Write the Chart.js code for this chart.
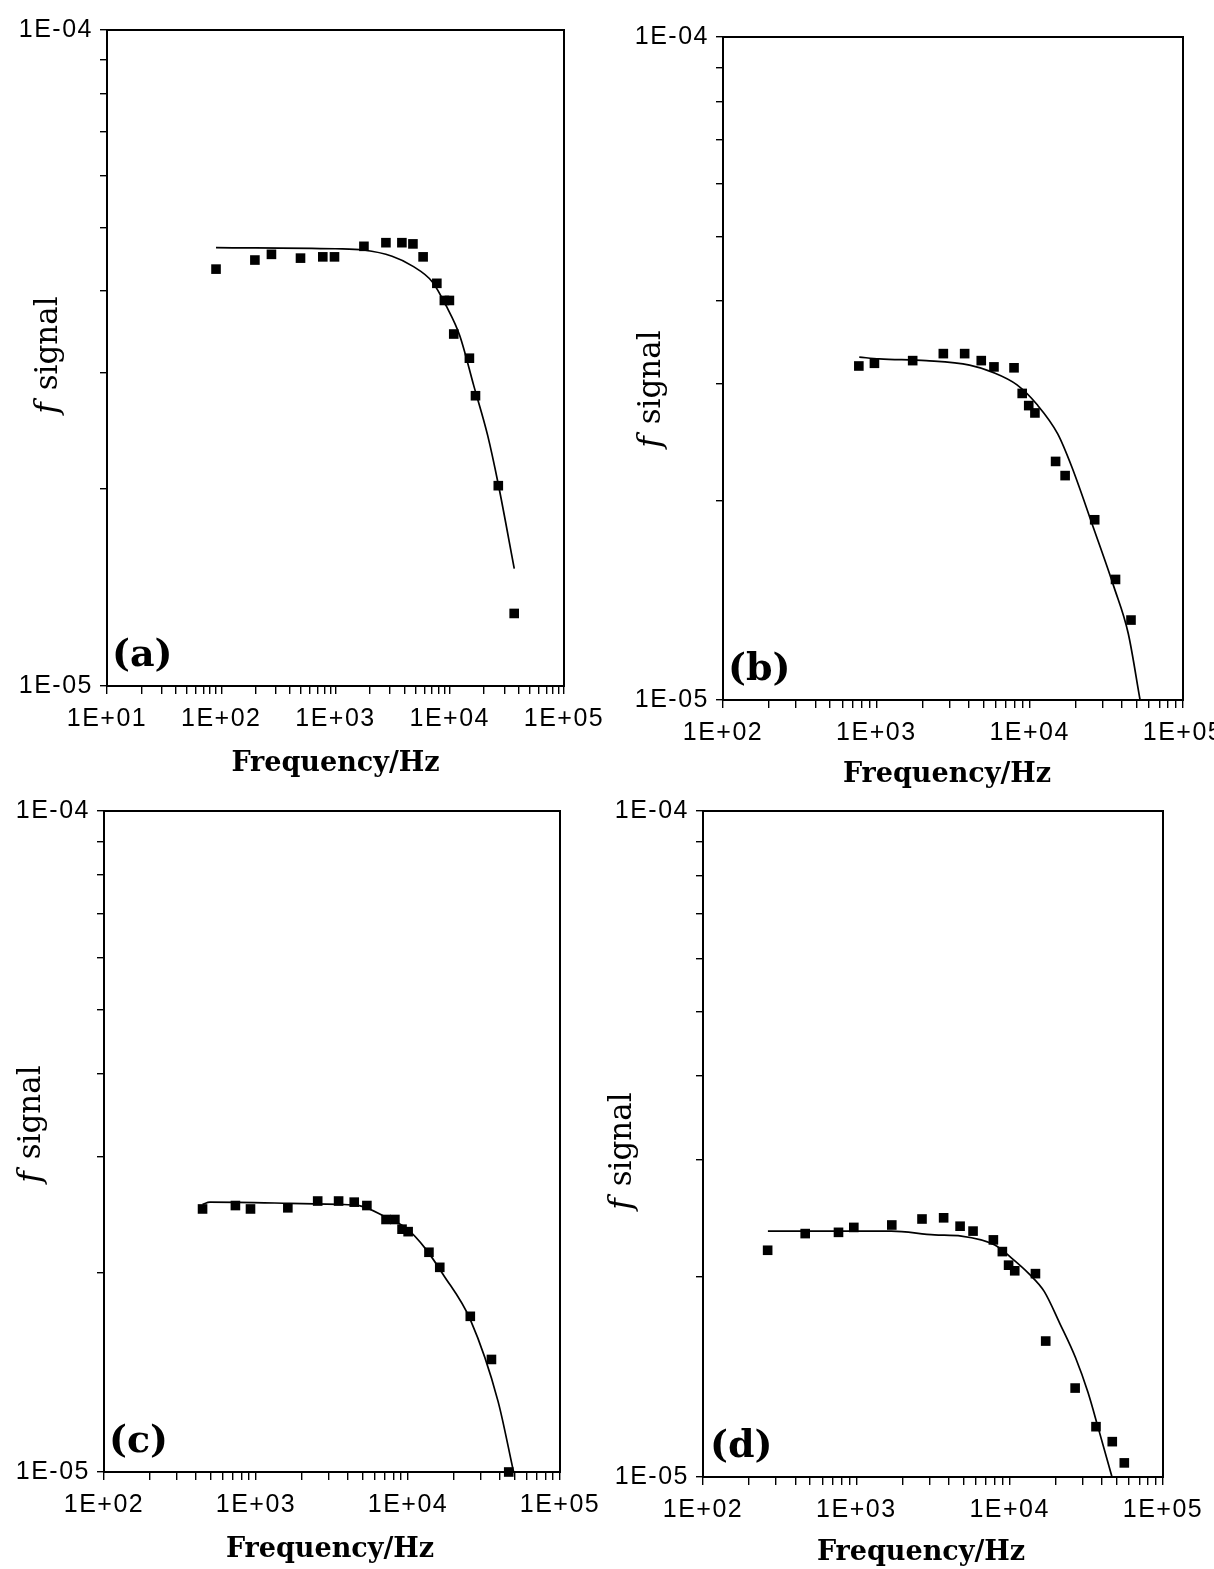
<!DOCTYPE html>
<html><head><meta charset="utf-8">
<script src="https://cdn.jsdelivr.net/npm/chart.js@4.4.1/dist/chart.umd.min.js"></script>
<style>
html,body{margin:0;padding:0;background:#fff;width:1214px;height:1569px;overflow:hidden;position:relative}
canvas{position:absolute}
</style></head><body>
<canvas id="ca"></canvas><canvas id="cb"></canvas><canvas id="cc"></canvas><canvas id="cd"></canvas>
<script>
// ---------- data (Hz, f signal) ----------
const aFreq   = [90, 197, 275, 494, 774, 980, 1774, 2763, 3812, 4762, 5846, 7709, 8972, 9930, 10840, 14860, 16800, 26600, 36640];
const aSignal = [4.32e-5, 4.46e-5, 4.55e-5, 4.49e-5, 4.51e-5, 4.51e-5, 4.68e-5, 4.74e-5, 4.74e-5, 4.72e-5, 4.51e-5, 4.11e-5, 3.87e-5, 3.87e-5, 3.44e-5, 3.16e-5, 2.77e-5, 2.02e-5, 1.29e-5];
const aFitFreq   = [90, 997, 1766, 3127, 4690, 7050, 9290, 12240, 16220, 21470, 26600, 36700];
const aFitSignal = [4.66e-5, 4.64e-5, 4.62e-5, 4.52e-5, 4.37e-5, 4.13e-5, 3.80e-5, 3.42e-5, 2.87e-5, 2.41e-5, 2.03e-5, 1.51e-5];

const bFreq   = [769, 972, 1726, 2735, 3767, 4834, 5850, 7906, 8940, 9860, 10820, 14760, 17030, 26550, 36300, 45800];
const bSignal = [3.19e-5, 3.22e-5, 3.25e-5, 3.33e-5, 3.33e-5, 3.25e-5, 3.18e-5, 3.17e-5, 2.90e-5, 2.78e-5, 2.71e-5, 2.29e-5, 2.18e-5, 1.87e-5, 1.52e-5, 1.32e-5];
const bFitFreq   = [774, 1047, 2114, 4055, 5770, 8230, 11170, 15240, 18790, 25810, 35480, 43950, 52500];
const bFitSignal = [3.29e-5, 3.27e-5, 3.25e-5, 3.20e-5, 3.12e-5, 2.99e-5, 2.79e-5, 2.52e-5, 2.25e-5, 1.83e-5, 1.48e-5, 1.26e-5, 1.00e-5];

const cFreq   = [445, 732, 920, 1620, 2546, 3495, 4428, 5364, 7168, 8197, 9137, 10020, 13735, 16180, 25695, 35400, 46000];
const cSignal = [2.50e-5, 2.53e-5, 2.50e-5, 2.51e-5, 2.57e-5, 2.57e-5, 2.56e-5, 2.53e-5, 2.41e-5, 2.41e-5, 2.33e-5, 2.31e-5, 2.15e-5, 2.04e-5, 1.72e-5, 1.48e-5, 1.00e-5];
const cFitFreq   = [445, 497, 1663, 3531, 4772, 7159, 9700, 13180, 17020, 25700, 39090, 49500];
const cFitSignal = [2.54e-5, 2.56e-5, 2.55e-5, 2.54e-5, 2.53e-5, 2.43e-5, 2.34e-5, 2.17e-5, 1.99e-5, 1.70e-5, 1.28e-5, 1.00e-5];

const dFreq   = [264, 464, 765, 963, 1703, 2681, 3710, 4750, 5770, 7830, 8960, 9840, 10790, 14730, 17180, 26730, 36560, 46680, 55930];
const dSignal = [2.19e-5, 2.32e-5, 2.33e-5, 2.37e-5, 2.39e-5, 2.44e-5, 2.45e-5, 2.38e-5, 2.34e-5, 2.27e-5, 2.18e-5, 2.08e-5, 2.04e-5, 2.02e-5, 1.60e-5, 1.36e-5, 1.19e-5, 1.13e-5, 1.05e-5];
const dFitFreq   = [265, 796, 1690, 3236, 4840, 8000, 10330, 13330, 16790, 21250, 26900, 32400, 38000, 46500];
const dFitSignal = [2.34e-5, 2.34e-5, 2.34e-5, 2.31e-5, 2.30e-5, 2.23e-5, 2.13e-5, 2.02e-5, 1.90e-5, 1.70e-5, 1.51e-5, 1.34e-5, 1.18e-5, 1.00e-5];

// ---------- tick labels ----------
const aXTicks = [1e1, 1e2, 1e3, 1e4, 1e5];
const aXTickLabels = ['1E+01', '1E+02', '1E+03', '1E+04', '1E+05'];
const xTicks = [1e2, 1e3, 1e4, 1e5];
const xTickLabels = ['1E+02', '1E+03', '1E+04', '1E+05'];
const yTicks = [1e-5, 1e-4];
const yTickLabels = ['1E-05', '1E-04'];
const xTitle = 'Frequency/Hz';
const yTitleItalic = 'f';
const yTitleRest = ' signal';

// ---------- layout ----------
const panels = [
  {id:'ca', letter:'(a)', area:{l:107,t:30,r:564,b:686}, xMin:10, xMax:1e5, xt:aXTicks, xl:aXTickLabels,
   f:aFreq, s:aSignal, ff:aFitFreq, fs:aFitSignal, yt:{dx:-50, cy:356}, xtl:{dx:0, dy:85}, let:{dx:5, dy:-20}},
  {id:'cb', letter:'(b)', area:{l:723,t:37,r:1183,b:700}, xMin:100, xMax:1e5, xt:xTicks, xl:xTickLabels,
   f:bFreq, s:bSignal, ff:bFitFreq, fs:bFitSignal, yt:{dx:-63, cy:390}, xtl:{dx:-6, dy:82}, let:{dx:5, dy:-20}},
  {id:'cc', letter:'(c)', area:{l:104,t:811,r:560,b:1472}, xMin:100, xMax:1e5, xt:xTicks, xl:xTickLabels,
   f:cFreq, s:cSignal, ff:cFitFreq, fs:cFitSignal, yt:{dx:-64, cy:1125}, xtl:{dx:-2, dy:85}, let:{dx:5, dy:-20}},
  {id:'cd', letter:'(d)', area:{l:703,t:811,r:1163,b:1477}, xMin:100, xMax:1e5, xt:xTicks, xl:xTickLabels,
   f:dFreq, s:dSignal, ff:dFitFreq, fs:dFitSignal, yt:{dx:-72, cy:1152}, xtl:{dx:-12, dy:83}, let:{dx:7, dy:-20}}
];
const PADL = 5, YW = 100, PADT = 30, PADR = 80, XH = 90, PADB = 10;

function logTicks(min, max) {
  const out = [];
  for (let e = Math.round(Math.log10(min)); e <= Math.round(Math.log10(max)); e++) {
    const base = Math.pow(10, e);
    for (let m = 1; m <= 9; m++) {
      const v = m * base;
      if (v >= min * 0.999 && v <= max * 1.001) out.push({value: v});
    }
  }
  return out;
}
function labelFor(v, vals, labels) {
  const i = vals.findIndex(t => Math.abs(t - v) / t < 1e-6);
  return i >= 0 ? labels[i] : '';
}

const decorPlugin = {
  id: 'decor',
  beforeDraw(chart) {
    if ('letterSpacing' in chart.ctx) chart.ctx.letterSpacing = '1.5px';
  },
  afterDraw(chart) {
    const p = chart.options.plugins.decor;
    const ca = chart.chartArea;
    const ctx = chart.ctx;
    ctx.save();
    if ('letterSpacing' in ctx) ctx.letterSpacing = '0px';
    ctx.strokeStyle = '#000';
    ctx.lineWidth = 2;
    ctx.strokeRect(ca.left, ca.top, ca.right - ca.left, ca.bottom - ca.top);
    ctx.fillStyle = '#000';
    // panel letter
    ctx.font = 'bold 38px "DejaVu Serif"';
    ctx.textAlign = 'left';
    ctx.textBaseline = 'alphabetic';
    ctx.fillText(p.letter, ca.left + p.let.dx, ca.bottom + p.let.dy);
    // x title
    ctx.font = 'bold 27px "DejaVu Serif"';
    ctx.textAlign = 'center';
    ctx.fillText(xTitle, (ca.left + ca.right) / 2 + p.xtl.dx, ca.bottom + p.xtl.dy);
    // y title
    const cy = p.yt.cy - p.top;
    ctx.translate(ca.left + p.yt.dx, cy);
    ctx.rotate(-Math.PI / 2);
    ctx.textAlign = 'left';
    ctx.font = 'italic 31px "DejaVu Serif"';
    const w1 = ctx.measureText(yTitleItalic).width;
    ctx.font = '31px "DejaVu Serif"';
    const w2 = ctx.measureText(yTitleRest).width;
    const x0 = -(w1 + w2) / 2;
    ctx.font = 'italic 31px "DejaVu Serif"';
    ctx.fillText(yTitleItalic, x0, 0);
    ctx.font = '31px "DejaVu Serif"';
    ctx.fillText(yTitleRest, x0 + w1 + 2, 0);
    ctx.restore();
  }
};

const tickFont = {family: '"Liberation Sans"', size: 25};

panels.forEach(p => {
  const cv = document.getElementById(p.id);
  const left = p.area.l - PADL - YW;
  const top = p.area.t - PADT;
  const w = (p.area.r - p.area.l) + PADL + YW + PADR;
  const h = (p.area.b - p.area.t) + PADT + XH + PADB;
  cv.width = w; cv.height = h;
  cv.style.left = left + 'px'; cv.style.top = top + 'px';
  cv.style.width = w + 'px'; cv.style.height = h + 'px';
  p.top = top;
  new Chart(cv, {
    type: 'scatter',
    data: {
      datasets: [
        {type: 'line', data: p.ff.map((x, i) => ({x, y: p.fs[i]})), borderColor: '#000', borderWidth: 1.7,
         pointRadius: 0, fill: false, cubicInterpolationMode: 'monotone', clip: false},
        {type: 'scatter', data: p.f.map((x, i) => ({x, y: p.s[i]})), pointStyle: 'rect', pointRadius: 6.8,
         backgroundColor: '#000', borderWidth: 0, clip: false}
      ]
    },
    options: {
      responsive: false, animation: false, devicePixelRatio: 1,
      layout: {padding: {left: PADL, top: PADT, right: PADR, bottom: PADB}},
      plugins: {legend: {display: false}, tooltip: {enabled: false},
        decor: {letter: p.letter, let: p.let, xtl: p.xtl, yt: p.yt, top: top}},
      scales: {
        x: {type: 'logarithmic', position: 'bottom', min: p.xMin, max: p.xMax,
          afterFit: s => { s.height = XH; },
          afterBuildTicks: s => { s.ticks = logTicks(p.xMin, p.xMax); },
          ticks: {autoSkip: false, maxRotation: 0, minRotation: 0, padding: 10, color: '#000', font: tickFont,
            callback: v => labelFor(v, p.xt, p.xl)},
          grid: {display: true, drawOnChartArea: false, drawTicks: true, tickLength: 8, color: '#000', lineWidth: 1.4},
          border: {display: true, color: '#000', width: 2}},
        y: {type: 'logarithmic', position: 'left', min: 1e-5, max: 1e-4,
          afterFit: s => { s.width = YW; },
          afterBuildTicks: s => { s.ticks = logTicks(1e-5, 1e-4); },
          ticks: {autoSkip: false, padding: 7, color: '#000', font: tickFont,
            callback: v => labelFor(v, yTicks, yTickLabels)},
          grid: {display: true, drawOnChartArea: false, drawTicks: true, tickLength: 7, color: '#000', lineWidth: 1.4},
          border: {display: true, color: '#000', width: 2}}
      }
    },
    plugins: [decorPlugin]
  });
});
</script>
</body></html>
